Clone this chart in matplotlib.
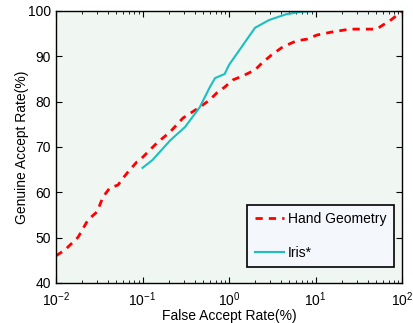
import matplotlib
matplotlib.use('Agg')
import matplotlib.pyplot as plt
import numpy as np

plt.rcParams['font.family'] = ['Liberation Sans', 'DejaVu Sans']
plt.rcParams['mathtext.fontset'] = 'custom'
plt.rcParams['mathtext.rm'] = 'Liberation Sans'

# Hand Geometry ROC (FAR %, GAR %)
hand_far = [0.01, 0.0127, 0.018, 0.0234, 0.0298, 0.035, 0.042, 0.052, 0.060, 0.068,
            0.086, 0.093, 0.147, 0.208, 0.294, 0.46, 0.60, 0.72, 0.89, 1.11, 1.45,
            2.0, 2.4, 3.1, 4.2, 6.0, 8.0, 10.4, 15.8, 25, 51, 60, 72, 95, 100]
hand_gar = [46.0, 47.3, 50.1, 53.9, 55.7, 59.0, 61.0, 61.6, 63.2, 64.5,
            66.7, 67.1, 70.9, 73.3, 76.4, 78.8, 80.4, 81.9, 83.2, 84.8, 85.7,
            87.0, 88.5, 90.3, 92.1, 93.4, 93.8, 94.7, 95.4, 96.0, 96.0, 96.9, 97.8, 99.6, 100]

# Iris ROC
iris_far = [0.1, 0.13, 0.21, 0.31, 0.46, 0.60, 0.69, 0.89, 1.0, 2.0, 2.9, 4.6, 6.7, 10, 100]
iris_gar = [65.4, 67.1, 71.5, 74.4, 78.8, 83.2, 85.2, 86.1, 88.1, 96.3, 98.0, 99.3, 99.8, 100, 100]

fig = plt.figure(figsize=(4.14, 3.23), dpi=100)
ax = fig.add_axes([56 / 414, 40 / 323, 346 / 414, 272 / 323])
ax.set_facecolor('#f0f6f2')

ax.semilogx(hand_far, hand_gar, '--', color='#ff0000', lw=2, dashes=(2.6, 2.2), label='Hand Geometry')
ax.semilogx(iris_far, iris_gar, '-', color='#1cbfbf', lw=1.5, label='Iris*')

ax.set_xlim(0.01, 100)
ax.set_ylim(40, 100)
ax.set_yticks(np.arange(40, 101, 10))
ax.tick_params(which='both', direction='in', top=True, right=True, labelsize=10, colors='k')
ax.tick_params(which='major', length=4)
ax.tick_params(which='minor', length=2)
ax.tick_params(axis='x', which='major', pad=5)
for s in ax.spines.values():
    s.set_linewidth(1.0)

ax.set_xlabel('False Accept Rate(%)', fontsize=10, labelpad=0)
ax.set_ylabel('Genuine Accept Rate(%)', fontsize=10, labelpad=-0.5)

leg = ax.legend(loc='lower right', bbox_to_anchor=(0.978, 0.058), fontsize=10, fancybox=False,
                edgecolor='k', facecolor='#f4f7fb', framealpha=1, handlelength=2.1,
                handletextpad=0.3, labelspacing=1.4, borderpad=0.55, borderaxespad=0)
leg.get_frame().set_linewidth(1.2)

fig.savefig('out.png', dpi=100)
